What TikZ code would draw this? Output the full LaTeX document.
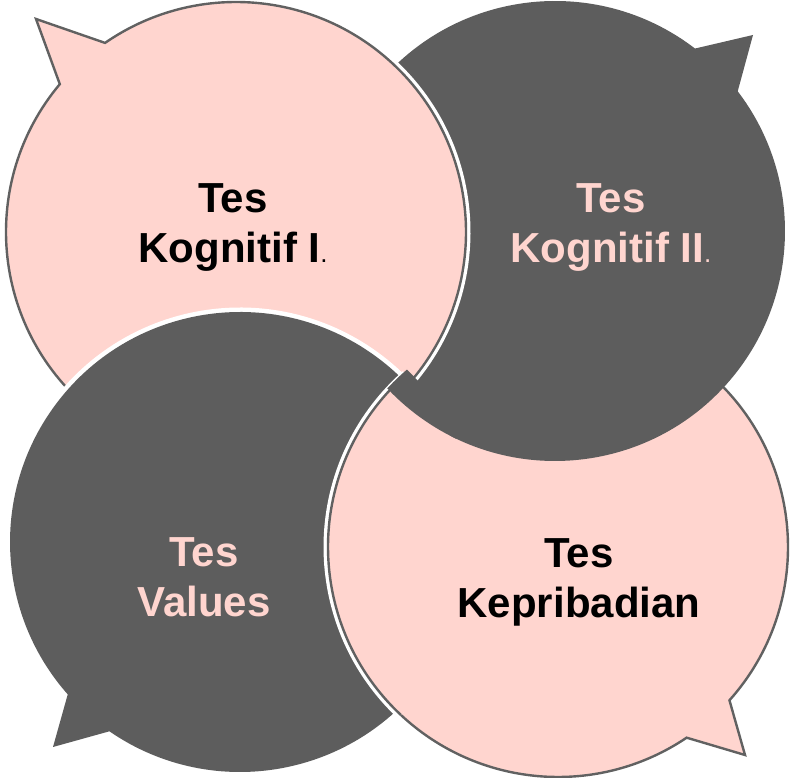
\documentclass[tikz,border=0pt]{standalone}
\usepackage{fontspec}
\setmainfont{Liberation Sans}
\usetikzlibrary{calc}

\definecolor{bubblepink}{HTML}{FFD5CF}
\definecolor{bubblegray}{HTML}{5D5D5D}
\definecolor{bubbleline}{HTML}{616161}

% circle of radius 230 with a pointed tail: centre, arc start, arc end, tip
\newcommand{\bubblepath}[4]{(#4) -- ($(#1)+(#2:230)$) arc[start angle=#2, end angle=#3, radius=230] -- cycle}
\newcommand{\smalldot}{{\fontsize{26}{26}\selectfont\mdseries.}}

\begin{document}
\begin{tikzpicture}[x=1pt,y=1pt,
    halo/.style={draw=white,line width=9pt,line join=round},
    pink bubble/.style={fill=bubblepink,draw=bubbleline,line width=2.4pt},
    dark bubble/.style={fill=bubblegray},
    label node/.style={align=center,anchor=base,font=\fontsize{42}{50}\selectfont\bfseries}]
    \useasboundingbox (0,0) rectangle (792,778);

    \coordinate (c1) at (236,546);
    \coordinate (c2) at (555,547);
    \coordinate (c3) at (240,236);
    \coordinate (c4) at (558,231);
    \coordinate (p1) at (36,759);
    \coordinate (p2) at (753,743);
    \coordinate (p3) at (53,31);
    \coordinate (p4) at (745,23);

    % the four bubbles, each one over the one before
    \path[pink bubble] \bubblepath{c4}{318.2}{664}{p4};
    \path[dark bubble] \bubblepath{c2}{52.5}{397.4}{p2};
    \path[halo] \bubblepath{c1}{140}{484.7}{p1};
    \path[pink bubble] \bubblepath{c1}{140}{484.7}{p1};
    \path[halo] \bubblepath{c3}{235.4}{581.5}{p3};
    \path[dark bubble] \bubblepath{c3}{235.4}{581.5}{p3};
    % close the ring: bottom right back on top of bottom left
    \begin{scope}
        \clip (c3) circle[radius=236];
        \path[halo] \bubblepath{c4}{318.2}{664}{p4};
        \path[pink bubble] \bubblepath{c4}{318.2}{664}{p4};
    \end{scope}
    % and top right still on top of bottom right
    \begin{scope}
        \clip (c3) circle[radius=240];
        \clip (c4) circle[radius=233];
        \path[dark bubble] \bubblepath{c2}{52.5}{397.4}{p2};
    \end{scope}

    % labels, placed at the baseline of their last line
    \node[label node,text=black] (1) at (233,515) {Tes\\Kognitif I\smalldot};
    \node[label node,text=bubblepink] (2) at (611,515) {Tes\\Kognitif II\smalldot};
    \node[label node,text=bubblepink] (3) at (204,161) {Tes\\Values};
    \node[label node,text=black] (4) at (579,160) {Tes\\Kepribadian};
\end{tikzpicture}
\end{document}
